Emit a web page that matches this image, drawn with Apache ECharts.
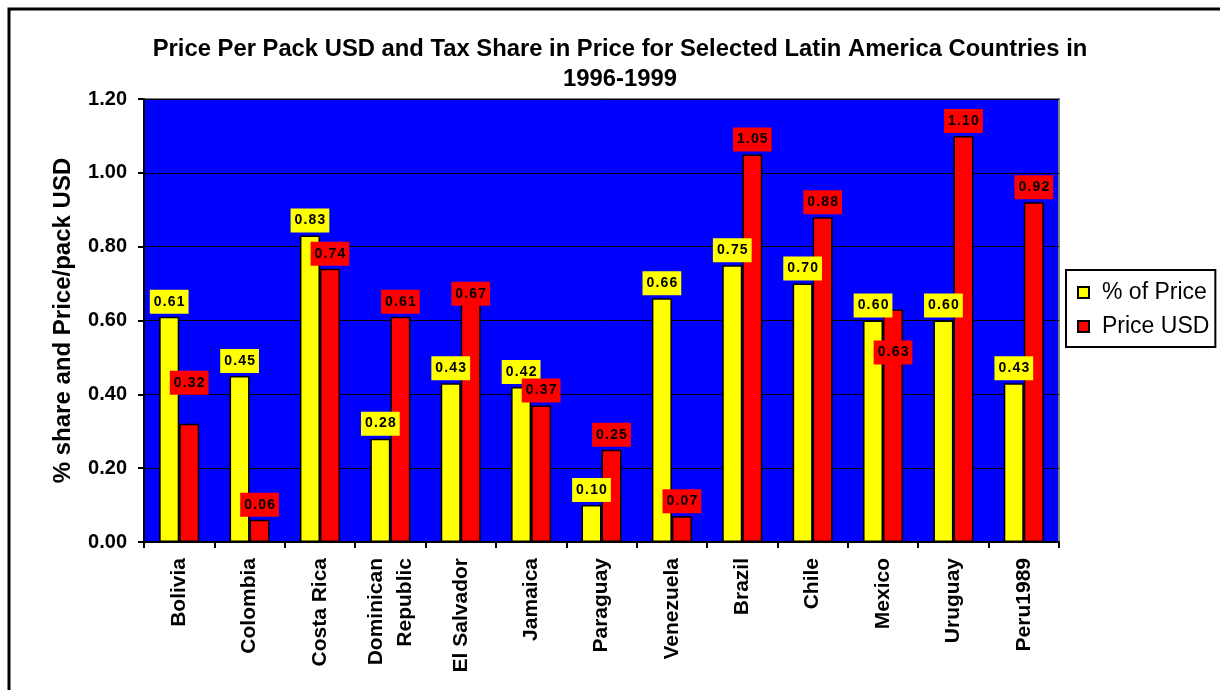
<!DOCTYPE html>
<html>
<head>
<meta charset="utf-8">
<script src="https://cdn.jsdelivr.net/npm/echarts@6/dist/echarts.min.js"></script>
<style>
  html, body { margin: 0; padding: 0; background: #fff; }
  #chart { width: 1220px; height: 690px; }
</style>
</head>
<body>
<div id="chart"></div>
<script>
// categories and values
var countries = ["Bolivia", "Colombia", "Costa Rica", "Dominican\nRepublic", "El Salvador", "Jamaica",
  "Paraguay", "Venezuela", "Brazil", "Chile", "Mexico", "Uruguay", "Peru1989"];
var shareOfPrice = [0.61, 0.45, 0.83, 0.28, 0.43, 0.42, 0.10, 0.66, 0.75, 0.70, 0.60, 0.60, 0.43];
var priceUsd = [0.32, 0.06, 0.74, 0.61, 0.67, 0.37, 0.25, 0.07, 1.05, 0.88, 0.63, 1.10, 0.92];
var yTicks = [0, 0.2, 0.4, 0.6, 0.8, 1.0, 1.2];

// a few red labels were moved by the original tool to avoid overlaps
var redLabelShift = { "Bolivia": -26, "El Salvador": 14, "Mexico": 58 };

var font = "Arial, 'Liberation Sans', sans-serif";

function labelBox(bg) {
  return {
    show: true,
    position: "top",
    distance: 3,
    backgroundColor: bg,
    padding: [4, 4, 4, 4],
    lineHeight: 16,
    color: "#000",
    fontFamily: font,
    fontWeight: "bold",
    fontSize: 14,
    formatter: function (p) { return p.value.toFixed(2).split("").join("\u200a"); }
  };
}

var redData = priceUsd.map(function (v, i) {
  var dy = redLabelShift[countries[i]];
  if (dy) return { value: v, label: { offset: [0, dy] } };
  return v;
});

var chart = echarts.init(document.getElementById("chart"));
chart.setOption({
  animation: false,
  textStyle: { fontFamily: font },
  title: {
    text: "Price Per Pack USD and Tax Share in Price for Selected Latin America Countries in\n1996-1999",
    left: 615,
    textAlign: "center",
    top: 29,
    textStyle: { fontFamily: font, fontWeight: "bold", fontSize: 23.8, lineHeight: 30, color: "#000" }
  },
  graphic: [{
    type: "rect",
    shape: { x: 9, y: 9, width: 1400, height: 900 },
    style: { fill: "none", stroke: "#000", lineWidth: 3 },
    silent: true
  }],
  legend: {
    orient: "vertical",
    left: 1066,
    top: 270,
    padding: [11, 6, 9, 11],
    itemGap: 11,
    itemWidth: 11,
    itemHeight: 11,
    borderColor: "#000",
    borderWidth: 2,
    icon: "rect",
    textStyle: { fontFamily: font, fontSize: 23, color: "#000", padding: [0, 0, 0, 8] },
    data: ["% of Price", "Price USD"]
  },
  grid: {
    left: 144, right: 161, top: 99, bottom: 148,
    show: true,
    backgroundColor: "#0000ff",
    borderColor: "#808080",
    borderWidth: 2,
    containLabel: false
  },
  xAxis: {
    type: "category",
    data: countries,
    axisLine: { lineStyle: { color: "#000", width: 2 } },
    axisTick: { show: true, length: 6, lineStyle: { color: "#000", width: 2 } },
    axisLabel: {
      rotate: 90,
      interval: 0,
      margin: 16,
      color: "#000",
      fontFamily: font,
      fontWeight: "bold",
      fontSize: 21,
      lineHeight: 29
    }
  },
  yAxis: {
    type: "value",
    min: yTicks[0],
    max: yTicks[yTicks.length - 1],
    interval: 0.2,
    name: "% share and Price/pack USD",
    nameLocation: "middle",
    nameGap: 69,
    nameTextStyle: { fontFamily: font, fontWeight: "bold", fontSize: 24, color: "#000" },
    axisLine: { show: true, lineStyle: { color: "#000", width: 2 } },
    axisTick: { show: true, length: 6, lineStyle: { color: "#000", width: 2 } },
    splitLine: { lineStyle: { color: "#000", width: 1 } },
    axisLabel: {
      margin: 17,
      color: "#000",
      fontFamily: font,
      fontWeight: "bold",
      fontSize: 20,
      formatter: function (v) { return v.toFixed(2); }
    }
  },
  series: [
    {
      name: "% of Price",
      type: "bar",
      barWidth: 20,
      barGap: "0%",
      itemStyle: { color: "#ffff00", borderColor: "#000", borderWidth: 1.5 },
      label: labelBox("#ffff00"),
      data: shareOfPrice
    },
    {
      name: "Price USD",
      type: "bar",
      barWidth: 20,
      barGap: "0%",
      itemStyle: { color: "#ff0000", borderColor: "#000", borderWidth: 1.5 },
      label: labelBox("#ff0000"),
      data: redData
    }
  ]
});
</script>
</body>
</html>
